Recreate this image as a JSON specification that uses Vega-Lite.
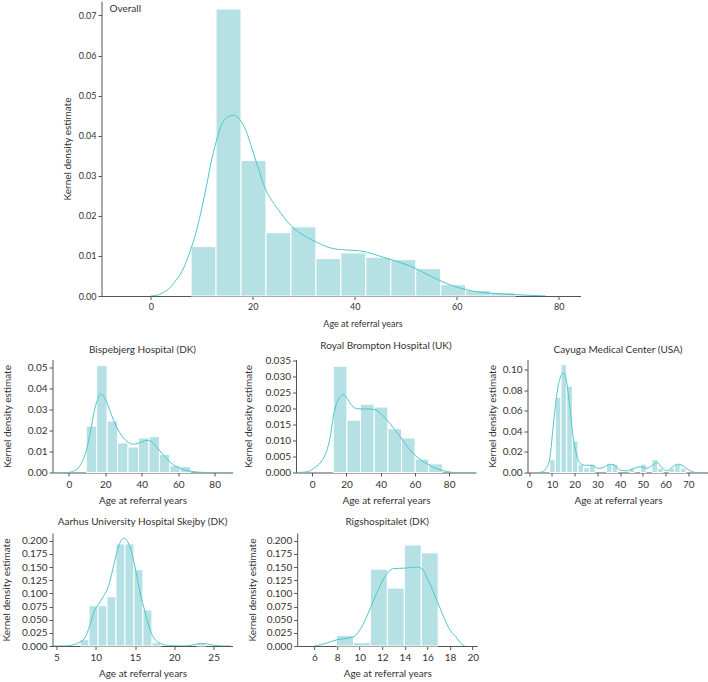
{
  "$schema": "https://vega.github.io/schema/vega-lite/v6.json",
  "padding": {"left": 1.5, "top": 0, "right": 0, "bottom": 0},
  "background": "white",
  "config": {
    "view": {"stroke": null},
    "font": "Lato",
    "axis": {"grid": false, "domainColor": "#555555", "tickColor": "#555555", "tickSize": 3.5, "labelColor": "#333333", "titleColor": "#333333", "labelFont": "Lato", "titleFont": "Lato", "titleFontWeight": "normal", "labelFontSize": 10, "titleFontSize": 10, "domainWidth": 1, "tickWidth": 1},
    "axisX": {"labelFlush": false, "labelPadding": 3},
    "axisY": {"labelPadding": 2},
    "title": {"fontWeight": "normal", "fontSize": 10, "color": "#333333", "font": "Lato", "baseline": "alphabetic", "offset": 5, "frame": "group"}
  },
  "spacing": 11.5,
  "vconcat": [
    {
      "spacing": 0,
      "hconcat": [
        {"width": 10, "height": 10, "data": {"values": [{}]}, "mark": {"type": "text"}, "encoding": {"text": {"value": ""}}},
        {
          "width": 479, "height": 295,
          "layer": [
            {
              "data": {"values": [
                {"bin_start": 7.9, "bin_end": 12.795, "density": 0.01233},
                {"bin_start": 12.795, "bin_end": 17.69, "density": 0.0716},
                {"bin_start": 17.69, "bin_end": 22.585, "density": 0.0338},
                {"bin_start": 22.585, "bin_end": 27.48, "density": 0.0158},
                {"bin_start": 27.48, "bin_end": 32.375, "density": 0.01725},
                {"bin_start": 32.375, "bin_end": 37.27, "density": 0.00933},
                {"bin_start": 37.27, "bin_end": 42.165, "density": 0.01075},
                {"bin_start": 42.165, "bin_end": 47.06, "density": 0.00967},
                {"bin_start": 47.06, "bin_end": 51.955, "density": 0.00908},
                {"bin_start": 51.955, "bin_end": 56.85, "density": 0.00683},
                {"bin_start": 56.85, "bin_end": 61.745, "density": 0.00283},
                {"bin_start": 61.745, "bin_end": 66.64, "density": 0.00133},
                {"bin_start": 66.64, "bin_end": 71.535, "density": 0.00083}
              ]},
              "mark": {"type": "rect", "fill": "#b5e1e5", "stroke": "white", "strokeWidth": 1},
              "encoding": {
                "x": {"field": "bin_start", "type": "quantitative", "scale": {"domain": [-9.67, 84.26], "nice": false, "zero": false}, "axis": {"title": "Age at referral years", "values": [0, 20, 40, 60, 80], "format": "d", "labelFontSize": 9, "titleFontSize": 9, "titlePadding": 8, "titleX": 261}},
                "x2": {"field": "bin_end"},
                "y": {"field": "density", "type": "quantitative", "scale": {"domain": [0, 0.0736], "nice": false}, "axis": {"title": "Kernel density estimate", "values": [0, 0.01, 0.02, 0.03, 0.04, 0.05, 0.06, 0.07], "format": ".2f", "labelFontSize": 9, "titleFontSize": 10, "titlePadding": 5.5}},
                "y2": {"datum": 0}
              }
            },
            {
              "data": {"values": [
                {"age": 0, "density": 0}, {"age": 1.5, "density": 0.0003}, {"age": 2.5, "density": 0.0009}, {"age": 3.5, "density": 0.00175},
                {"age": 4.8, "density": 0.0037}, {"age": 6.1, "density": 0.0061}, {"age": 7.9, "density": 0.0119}, {"age": 9, "density": 0.0165},
                {"age": 10, "density": 0.0219}, {"age": 11, "density": 0.028}, {"age": 12, "density": 0.0344}, {"age": 13, "density": 0.0393},
                {"age": 13.9, "density": 0.0428}, {"age": 15, "density": 0.0446}, {"age": 16.2, "density": 0.0451}, {"age": 17.9, "density": 0.0432},
                {"age": 18.9, "density": 0.0405}, {"age": 19.8, "density": 0.0369}, {"age": 21, "density": 0.0322}, {"age": 22.4, "density": 0.0269},
                {"age": 23.5, "density": 0.0243}, {"age": 25, "density": 0.0215}, {"age": 27.7, "density": 0.0173}, {"age": 29.5, "density": 0.0155},
                {"age": 31.6, "density": 0.014}, {"age": 33.5, "density": 0.0128}, {"age": 35.5, "density": 0.0119}, {"age": 38, "density": 0.0115},
                {"age": 40.7, "density": 0.0113}, {"age": 42.5, "density": 0.0109}, {"age": 44, "density": 0.0103}, {"age": 47.3, "density": 0.009},
                {"age": 51.2, "density": 0.0073}, {"age": 55.1, "density": 0.0048}, {"age": 59.1, "density": 0.0026}, {"age": 63, "density": 0.00125},
                {"age": 66.9, "density": 0.00067}, {"age": 72.1, "density": 0.0003}, {"age": 77.4, "density": 0}
              ]},
              "mark": {"type": "line", "color": "#4fc6cb", "strokeWidth": 1, "interpolate": "monotone", "clip": true},
              "encoding": {
                "x": {"field": "age", "type": "quantitative", "scale": {"domain": [-9.67, 84.26], "nice": false, "zero": false}, "axis": {"title": "Age at referral years", "values": [0, 20, 40, 60, 80], "format": "d", "labelFontSize": 9, "titleFontSize": 9, "titlePadding": 8, "titleX": 261}},
                "y": {"field": "density", "type": "quantitative", "scale": {"domain": [0, 0.0736], "nice": false}, "axis": {"title": "Kernel density estimate", "values": [0, 0.01, 0.02, 0.03, 0.04, 0.05, 0.06, 0.07], "format": ".2f", "labelFontSize": 9, "titleFontSize": 10, "titlePadding": 5.5}}
              }
            },
            {
              "data": {"values": [{"label": "Overall"}]},
              "mark": {"type": "text", "align": "left", "baseline": "alphabetic", "dx": 8, "dy": 11, "fontSize": 10, "color": "#333333", "font": "Lato"},
              "encoding": {
                "text": {"field": "label", "type": "nominal"},
                "x": {"datum": -9.67},
                "y": {"datum": 0.0736}
              }
            }
          ]
        }
      ]
    },
    {
      "spacing": 10.5,
      "hconcat": [
        {
          "width": 180, "height": 113,
          "title": {"text": "Bispebjerg Hospital (DK)", "frame": "group", "offset": 5},
          "layer": [
            {
              "data": {"values": [
                {"bin_start": 9.5, "bin_end": 15.24, "density": 0.0222},
                {"bin_start": 15.24, "bin_end": 20.98, "density": 0.0511},
                {"bin_start": 20.98, "bin_end": 26.72, "density": 0.0246},
                {"bin_start": 26.72, "bin_end": 32.46, "density": 0.0141},
                {"bin_start": 32.46, "bin_end": 38.2, "density": 0.0122},
                {"bin_start": 38.2, "bin_end": 43.94, "density": 0.0165},
                {"bin_start": 43.94, "bin_end": 49.68, "density": 0.0171},
                {"bin_start": 49.68, "bin_end": 55.42, "density": 0.0086},
                {"bin_start": 55.42, "bin_end": 61.16, "density": 0.0033},
                {"bin_start": 61.16, "bin_end": 66.9, "density": 0.0029}
              ]},
              "mark": {"type": "rect", "fill": "#b5e1e5", "stroke": "white", "strokeWidth": 1},
              "encoding": {
                "x": {"field": "bin_start", "type": "quantitative", "scale": {"domain": [-9.0, 89.8], "nice": false, "zero": false}, "axis": {"title": "Age at referral years", "values": [0, 20, 40, 60, 80], "format": "d", "titlePadding": 6}},
                "x2": {"field": "bin_end"},
                "y": {"field": "density", "type": "quantitative", "scale": {"domain": [0, 0.054], "nice": false}, "axis": {"title": "Kernel density estimate", "values": [0, 0.01, 0.02, 0.03, 0.04, 0.05], "format": ".2f", "titlePadding": 15}},
                "y2": {"datum": 0}
              }
            },
            {
              "data": {"values": [
                {"age": -8.5, "density": 0}, {"age": 0, "density": 0}, {"age": 2, "density": 0.0005}, {"age": 4.4, "density": 0.0016},
                {"age": 7.1, "density": 0.0048}, {"age": 9.5, "density": 0.0103}, {"age": 11.7, "density": 0.019}, {"age": 14.1, "density": 0.030},
                {"age": 15.8, "density": 0.035}, {"age": 17.4, "density": 0.0375}, {"age": 19, "density": 0.0365}, {"age": 20.9, "density": 0.0333},
                {"age": 23.6, "density": 0.027}, {"age": 26.4, "density": 0.0214}, {"age": 29.1, "density": 0.0175}, {"age": 32.8, "density": 0.0143},
                {"age": 35.5, "density": 0.0135}, {"age": 39.2, "density": 0.0143}, {"age": 42.9, "density": 0.0154}, {"age": 45.6, "density": 0.0146},
                {"age": 48.4, "density": 0.0119}, {"age": 52, "density": 0.0083}, {"age": 55.7, "density": 0.0048}, {"age": 59.3, "density": 0.0027},
                {"age": 63, "density": 0.0013}, {"age": 67.6, "density": 0.0005}, {"age": 72.2, "density": 0.0001}, {"age": 76, "density": 0}, {"age": 89, "density": 0}
              ]},
              "mark": {"type": "line", "color": "#4fc6cb", "strokeWidth": 1, "interpolate": "monotone", "clip": true},
              "encoding": {
                "x": {"field": "age", "type": "quantitative", "scale": {"domain": [-9.0, 89.8], "nice": false, "zero": false}, "axis": {"title": "Age at referral years", "values": [0, 20, 40, 60, 80], "format": "d", "titlePadding": 6}},
                "y": {"field": "density", "type": "quantitative", "scale": {"domain": [0, 0.054], "nice": false}, "axis": {"title": "Kernel density estimate", "values": [0, 0.01, 0.02, 0.03, 0.04, 0.05], "format": ".2f", "titlePadding": 15}}
              }
            }
          ]
        },
        {
          "width": 180, "height": 113,
          "title": {"text": "Royal Brompton Hospital (UK)", "frame": "group", "offset": 5},
          "layer": [
            {
              "data": {"values": [
                {"bin_start": 12.3, "bin_end": 20.27, "density": 0.0333},
                {"bin_start": 20.27, "bin_end": 28.24, "density": 0.0164},
                {"bin_start": 28.24, "bin_end": 36.21, "density": 0.0214},
                {"bin_start": 36.21, "bin_end": 44.18, "density": 0.0205},
                {"bin_start": 44.18, "bin_end": 52.15, "density": 0.0137},
                {"bin_start": 52.15, "bin_end": 60.12, "density": 0.0108},
                {"bin_start": 60.12, "bin_end": 68.09, "density": 0.0042},
                {"bin_start": 68.09, "bin_end": 76.06, "density": 0.0027}
              ]},
              "mark": {"type": "rect", "fill": "#b5e1e5", "stroke": "white", "strokeWidth": 1},
              "encoding": {
                "x": {"field": "bin_start", "type": "quantitative", "scale": {"domain": [-9.5, 95.7], "nice": false, "zero": false}, "axis": {"title": "Age at referral years", "values": [0, 20, 40, 60, 80], "format": "d", "titlePadding": 6}},
                "x2": {"field": "bin_end"},
                "y": {"field": "density", "type": "quantitative", "scale": {"domain": [0, 0.0354], "nice": false}, "axis": {"title": "Kernel density estimate", "values": [0, 0.005, 0.01, 0.015, 0.02, 0.025, 0.03, 0.035], "format": ".3f", "titlePadding": 11}},
                "y2": {"datum": 0}
              }
            },
            {
              "data": {"values": [
                {"age": -9, "density": 0}, {"age": -5, "density": 0.0001}, {"age": -2.4, "density": 0.0003}, {"age": 1.6, "density": 0.0016},
                {"age": 5.5, "density": 0.0036}, {"age": 8.4, "density": 0.0067}, {"age": 10.4, "density": 0.0109}, {"age": 12.35, "density": 0.0176},
                {"age": 14.3, "density": 0.0217}, {"age": 16.3, "density": 0.0238}, {"age": 18.2, "density": 0.0243}, {"age": 20.2, "density": 0.0233},
                {"age": 23.1, "density": 0.021}, {"age": 26.1, "density": 0.020}, {"age": 29, "density": 0.0199}, {"age": 32.9, "density": 0.0199},
                {"age": 36.9, "density": 0.0196}, {"age": 40.8, "density": 0.0181}, {"age": 44.7, "density": 0.0158}, {"age": 48.6, "density": 0.0132},
                {"age": 52.5, "density": 0.0104}, {"age": 56.5, "density": 0.0075}, {"age": 60.4, "density": 0.0052}, {"age": 64.3, "density": 0.0036},
                {"age": 68.2, "density": 0.0024}, {"age": 72.2, "density": 0.0013}, {"age": 77.1, "density": 0.0005}, {"age": 82.9, "density": 0}, {"age": 95, "density": 0}
              ]},
              "mark": {"type": "line", "color": "#4fc6cb", "strokeWidth": 1, "interpolate": "monotone", "clip": true},
              "encoding": {
                "x": {"field": "age", "type": "quantitative", "scale": {"domain": [-9.5, 95.7], "nice": false, "zero": false}, "axis": {"title": "Age at referral years", "values": [0, 20, 40, 60, 80], "format": "d", "titlePadding": 6}},
                "y": {"field": "density", "type": "quantitative", "scale": {"domain": [0, 0.0354], "nice": false}, "axis": {"title": "Kernel density estimate", "values": [0, 0.005, 0.01, 0.015, 0.02, 0.025, 0.03, 0.035], "format": ".3f", "titlePadding": 11}}
              }
            }
          ]
        },
        {
          "width": 181, "height": 113,
          "title": {"text": "Cayuga Medical Center (USA)", "frame": "group", "offset": 5},
          "layer": [
            {
              "data": {"values": [
                {"bin_start": 9, "bin_end": 11.5, "density": 0.0129},
                {"bin_start": 11.5, "bin_end": 14, "density": 0.0732},
                {"bin_start": 14, "bin_end": 16.5, "density": 0.1048},
                {"bin_start": 16.5, "bin_end": 19, "density": 0.0839},
                {"bin_start": 19, "bin_end": 21.5, "density": 0.0306},
                {"bin_start": 21.5, "bin_end": 24, "density": 0.0081},
                {"bin_start": 24, "bin_end": 26.5, "density": 0.0048},
                {"bin_start": 26.5, "bin_end": 29, "density": 0.0081},
                {"bin_start": 34, "bin_end": 36.5, "density": 0.0081},
                {"bin_start": 36.5, "bin_end": 39, "density": 0.0081},
                {"bin_start": 44, "bin_end": 46.5, "density": 0.0042},
                {"bin_start": 49, "bin_end": 51.5, "density": 0.0081},
                {"bin_start": 54, "bin_end": 56.5, "density": 0.0126},
                {"bin_start": 56.5, "bin_end": 59, "density": 0.0042},
                {"bin_start": 61.5, "bin_end": 64, "density": 0.0042},
                {"bin_start": 64, "bin_end": 66.5, "density": 0.0081},
                {"bin_start": 66.5, "bin_end": 69, "density": 0.0042}
              ]},
              "mark": {"type": "rect", "fill": "#b5e1e5", "stroke": "white", "strokeWidth": 1},
              "encoding": {
                "x": {"field": "bin_start", "type": "quantitative", "scale": {"domain": [-0.75, 78.9], "nice": false, "zero": false}, "axis": {"title": "Age at referral years", "values": [0, 10, 20, 30, 40, 50, 60, 70], "format": "d", "titlePadding": 6}},
                "x2": {"field": "bin_end"},
                "y": {"field": "density", "type": "quantitative", "scale": {"domain": [0, 0.1098], "nice": false}, "axis": {"title": "Kernel density estimate", "values": [0, 0.02, 0.04, 0.06, 0.08, 0.1], "format": ".2f", "titlePadding": 5}},
                "y2": {"datum": 0}
              }
            },
            {
              "data": {"values": [
                {"age": 4, "density": 0}, {"age": 6, "density": 0.0008}, {"age": 7.5, "density": 0.004}, {"age": 9, "density": 0.013},
                {"age": 10.7, "density": 0.048}, {"age": 12.2, "density": 0.077}, {"age": 14, "density": 0.094}, {"age": 15.1, "density": 0.097},
                {"age": 16.3, "density": 0.09}, {"age": 17.8, "density": 0.065}, {"age": 19.5, "density": 0.032}, {"age": 21, "density": 0.016},
                {"age": 22.5, "density": 0.009}, {"age": 24.7, "density": 0.007}, {"age": 27.6, "density": 0.007}, {"age": 30.5, "density": 0.004},
                {"age": 32.7, "density": 0.005}, {"age": 35.4, "density": 0.008}, {"age": 37.4, "density": 0.0074}, {"age": 40, "density": 0.0023},
                {"age": 43, "density": 0.0016}, {"age": 46, "density": 0.004}, {"age": 48.9, "density": 0.0055}, {"age": 51.8, "density": 0.0042},
                {"age": 54, "density": 0.0065}, {"age": 56.2, "density": 0.0097}, {"age": 58.4, "density": 0.0048}, {"age": 60.6, "density": 0.0016},
                {"age": 62.8, "density": 0.0048}, {"age": 65.3, "density": 0.0081}, {"age": 67.2, "density": 0.0071}, {"age": 70.2, "density": 0.0026},
                {"age": 73.1, "density": 0}, {"age": 77, "density": 0}
              ]},
              "mark": {"type": "line", "color": "#4fc6cb", "strokeWidth": 1, "interpolate": "monotone", "clip": true},
              "encoding": {
                "x": {"field": "age", "type": "quantitative", "scale": {"domain": [-0.75, 78.9], "nice": false, "zero": false}, "axis": {"title": "Age at referral years", "values": [0, 10, 20, 30, 40, 50, 60, 70], "format": "d", "titlePadding": 6}},
                "y": {"field": "density", "type": "quantitative", "scale": {"domain": [0, 0.1098], "nice": false}, "axis": {"title": "Kernel density estimate", "values": [0, 0.02, 0.04, 0.06, 0.08, 0.1], "format": ".2f", "titlePadding": 5}}
              }
            }
          ]
        }
      ]
    },
    {
      "spacing": 14.7,
      "hconcat": [
        {
          "width": 180, "height": 113,
          "title": {"text": "Aarhus University Hospital Skejby (DK)", "frame": "group", "offset": 6},
          "layer": [
            {
              "data": {"values": [
                {"bin_start": 8, "bin_end": 9.143, "density": 0.012},
                {"bin_start": 9.143, "bin_end": 10.286, "density": 0.0766},
                {"bin_start": 10.286, "bin_end": 11.429, "density": 0.0766},
                {"bin_start": 11.429, "bin_end": 12.571, "density": 0.0937},
                {"bin_start": 12.571, "bin_end": 13.714, "density": 0.194},
                {"bin_start": 13.714, "bin_end": 14.857, "density": 0.194},
                {"bin_start": 14.857, "bin_end": 16, "density": 0.145},
                {"bin_start": 16, "bin_end": 17.143, "density": 0.0684},
                {"bin_start": 17.143, "bin_end": 18.286, "density": 0.0063},
                {"bin_start": 22.857, "bin_end": 24, "density": 0.0057}
              ]},
              "mark": {"type": "rect", "fill": "#b5e1e5", "stroke": "white", "strokeWidth": 1},
              "encoding": {
                "x": {"field": "bin_start", "type": "quantitative", "scale": {"domain": [4.49, 27.4], "nice": false, "zero": false}, "axis": {"title": "Age at referral years", "values": [5, 10, 15, 20, 25], "format": "d", "titlePadding": 6}},
                "x2": {"field": "bin_end"},
                "y": {"field": "density", "type": "quantitative", "scale": {"domain": [0, 0.2147], "nice": false}, "axis": {"title": "Kernel density estimate", "values": [0, 0.025, 0.05, 0.075, 0.1, 0.125, 0.15, 0.175, 0.2], "format": ".3f", "titlePadding": 9.5}},
                "y2": {"datum": 0}
              }
            },
            {
              "data": {"values": [
                {"age": 4.6, "density": 0}, {"age": 5.85, "density": 0}, {"age": 6.7, "density": 0.001}, {"age": 7.77, "density": 0.006},
                {"age": 8.6, "density": 0.015}, {"age": 9.26, "density": 0.04}, {"age": 9.9, "density": 0.069}, {"age": 10.3, "density": 0.078},
                {"age": 10.96, "density": 0.094}, {"age": 11.6, "density": 0.113}, {"age": 12.2, "density": 0.148}, {"age": 12.66, "density": 0.177},
                {"age": 13.17, "density": 0.199}, {"age": 13.6, "density": 0.205}, {"age": 14.0, "density": 0.2}, {"age": 14.57, "density": 0.177},
                {"age": 15.1, "density": 0.142}, {"age": 15.6, "density": 0.104}, {"age": 16.3, "density": 0.063}, {"age": 16.9, "density": 0.031},
                {"age": 17.55, "density": 0.012}, {"age": 18.4, "density": 0.004}, {"age": 19.5, "density": 0.0006}, {"age": 21.2, "density": 0},
                {"age": 22.4, "density": 0.002}, {"age": 23.3, "density": 0.005}, {"age": 24.1, "density": 0.004}, {"age": 25.2, "density": 0.001},
                {"age": 26.3, "density": 0}, {"age": 27.2, "density": 0}
              ]},
              "mark": {"type": "line", "color": "#4fc6cb", "strokeWidth": 1, "interpolate": "monotone", "clip": true},
              "encoding": {
                "x": {"field": "age", "type": "quantitative", "scale": {"domain": [4.49, 27.4], "nice": false, "zero": false}, "axis": {"title": "Age at referral years", "values": [5, 10, 15, 20, 25], "format": "d", "titlePadding": 6}},
                "y": {"field": "density", "type": "quantitative", "scale": {"domain": [0, 0.2147], "nice": false}, "axis": {"title": "Kernel density estimate", "values": [0, 0.025, 0.05, 0.075, 0.1, 0.125, 0.15, 0.175, 0.2], "format": ".3f", "titlePadding": 9.5}}
              }
            }
          ]
        },
        {
          "width": 180, "height": 113,
          "title": {"text": "Rigshospitalet (DK)", "frame": "group", "offset": 6},
          "layer": [
            {
              "data": {"values": [
                {"bin_start": 7.95, "bin_end": 9.45, "density": 0.0202},
                {"bin_start": 9.45, "bin_end": 10.95, "density": 0.0063},
                {"bin_start": 10.95, "bin_end": 12.45, "density": 0.146},
                {"bin_start": 12.45, "bin_end": 13.95, "density": 0.11},
                {"bin_start": 13.95, "bin_end": 15.45, "density": 0.192},
                {"bin_start": 15.45, "bin_end": 16.95, "density": 0.177}
              ]},
              "mark": {"type": "rect", "fill": "#b5e1e5", "stroke": "white", "strokeWidth": 1},
              "encoding": {
                "x": {"field": "bin_start", "type": "quantitative", "scale": {"domain": [4.47, 20.4], "nice": false, "zero": false}, "axis": {"title": "Age at referral years", "values": [6, 8, 10, 12, 14, 16, 18, 20], "format": "d", "titlePadding": 6}},
                "x2": {"field": "bin_end"},
                "y": {"field": "density", "type": "quantitative", "scale": {"domain": [0, 0.2147], "nice": false}, "axis": {"title": "Kernel density estimate", "values": [0, 0.025, 0.05, 0.075, 0.1, 0.125, 0.15, 0.175, 0.2], "format": ".3f", "titlePadding": 8.5}},
                "y2": {"datum": 0}
              }
            },
            {
              "data": {"values": [
                {"age": 6.0, "density": 0}, {"age": 7, "density": 0.005}, {"age": 8, "density": 0.012}, {"age": 9, "density": 0.015},
                {"age": 9.5, "density": 0.018}, {"age": 10, "density": 0.03}, {"age": 10.5, "density": 0.05}, {"age": 11, "density": 0.075},
                {"age": 11.5, "density": 0.1}, {"age": 12, "density": 0.123}, {"age": 12.5, "density": 0.14}, {"age": 13, "density": 0.147},
                {"age": 14, "density": 0.148}, {"age": 14.5, "density": 0.149}, {"age": 15, "density": 0.15}, {"age": 15.5, "density": 0.147},
                {"age": 16, "density": 0.128}, {"age": 16.5, "density": 0.104}, {"age": 17, "density": 0.078}, {"age": 17.5, "density": 0.052},
                {"age": 18, "density": 0.03}, {"age": 18.5, "density": 0.018}, {"age": 19, "density": 0.004}, {"age": 19.3, "density": 0}
              ]},
              "mark": {"type": "line", "color": "#4fc6cb", "strokeWidth": 1, "interpolate": "monotone", "clip": true},
              "encoding": {
                "x": {"field": "age", "type": "quantitative", "scale": {"domain": [4.47, 20.4], "nice": false, "zero": false}, "axis": {"title": "Age at referral years", "values": [6, 8, 10, 12, 14, 16, 18, 20], "format": "d", "titlePadding": 6}},
                "y": {"field": "density", "type": "quantitative", "scale": {"domain": [0, 0.2147], "nice": false}, "axis": {"title": "Kernel density estimate", "values": [0, 0.025, 0.05, 0.075, 0.1, 0.125, 0.15, 0.175, 0.2], "format": ".3f", "titlePadding": 8.5}}
              }
            }
          ]
        }
      ]
    }
  ]
}
